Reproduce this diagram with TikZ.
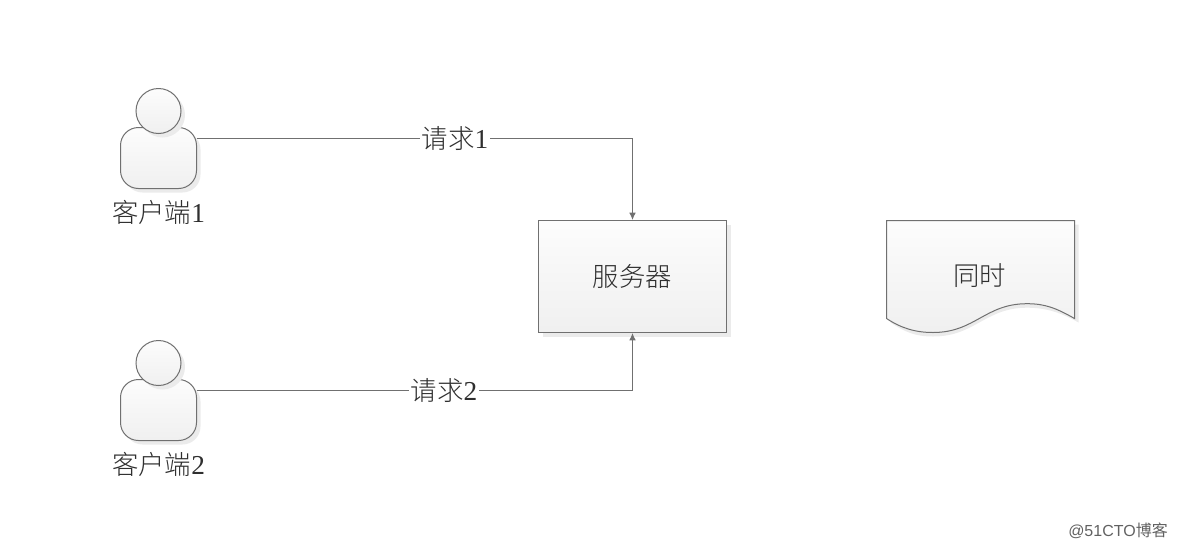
\documentclass[tikz,border=0pt]{standalone}
\usepackage{fontspec}
\setmainfont{Liberation Serif}
\newfontfamily\cjk[UprightFont=* Light]{Noto Sans CJK SC}
\newfontfamily\wm{Liberation Sans}
\newfontfamily\wmcjk{Noto Sans CJK SC}
\usetikzlibrary{arrows.meta,shadows}
\definecolor{edge}{HTML}{707070}
\definecolor{txt}{HTML}{2F2F2F}
\tikzset{
  softshadow/.style={drop shadow={shadow xshift=3pt,shadow yshift=-3pt,fill=black!8,opacity=1}},
  shapebase/.style={draw=edge,line width=.75pt,top color=white!99!black,bottom color=black!6,inner sep=0pt,softshadow},
  bodybox/.style={shapebase,rectangle,rounded corners=13.5pt,minimum width=57pt,minimum height=45.75pt},
  headdot/.style={shapebase,circle,minimum size=33.75pt},
  caption/.style={font=\cjk\fontsize{19.8pt}{22pt}\selectfont,text=txt,inner sep=0pt},
  linktag/.style={caption,fill=white,inner xsep=1pt,inner ysep=2pt},
  link/.style={draw=edge,line width=.75pt,-{Latex[length=5.5pt,width=5pt]}},
}
\newcommand{\digit}[1]{{\rmfamily\fontsize{20.5pt}{22pt}\selectfont #1}}
\begin{document}
\begin{tikzpicture}[x=0.75pt,y=-0.75pt]
\useasboundingbox (0,0) rectangle (1177,550);
% clients
\node[bodybox] (body1) at (158.5,158) {};
\node[headdot] (head1) at (158.5,111) {};
\node[caption] (cap1) at (158.5,212) {客户端\digit{1}};
\node[bodybox] (body2) at (158.5,410) {};
\node[headdot] (head2) at (158.5,363) {};
\node[caption] (cap2) at (158.5,464) {客户端\digit{2}};
% server
\node[caption,shapebase,rectangle,minimum width=141pt,minimum height=84pt] (server) at (632.5,276.5) {服务器};
% document
\fill[black!8] (890.5,224.5) -- (1078.5,224.5) -- (1078.5,322.5)
  .. controls (1060,312) and (1045,307.7) .. (1027,307.7)
  .. controls (985,307.7) and (975,336.5) .. (933,336.5)
  .. controls (915,336.5) and (905,332) .. (890.5,322.5) -- cycle;
\draw[draw=edge,line width=.75pt,top color=white!99!black,bottom color=black!6]
  (886.5,220.5) -- (1074.5,220.5) -- (1074.5,318.5)
  .. controls (1056,308) and (1045,303.7) .. (1027,303.7)
  .. controls (985,303.7) and (975,332.5) .. (933,332.5)
  .. controls (915,332.5) and (901,328) .. (886.5,318.5) -- cycle;
\node[caption] (doc) at (979.5,275.5) {同时};
% connectors
\coordinate (out1) at (197,138.5);
\coordinate (out2) at (197,390.5);
\draw[link] (out1) -| (server.north);
\draw[link] (out2) -| (server.south);
\node[linktag] (tag1) at (455,138.5) {请求\digit{1}};
\node[linktag] (tag2) at (444,390.5) {请求\digit{2}};
% watermark
\node[inner sep=0pt,text=black!62,font=\fontsize{12pt}{14pt}\selectfont] (mark) at (1118,531) {\wm @51CTO\wmcjk 博客};
\end{tikzpicture}
\end{document}
